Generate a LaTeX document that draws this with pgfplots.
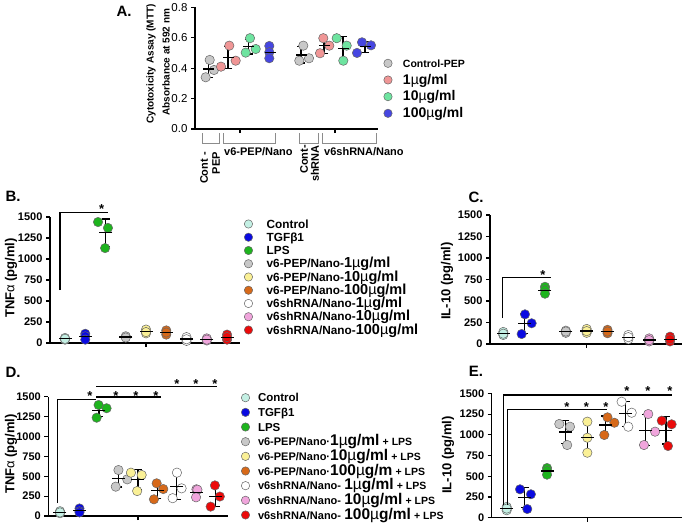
\documentclass[border=0pt]{standalone}
\usepackage{pgfplots}
\pgfplotsset{compat=1.18}
\usepackage{fontspec}
\setmainfont{Liberation Sans}
\definecolor{aGray}{RGB}{200,200,200}
\definecolor{aPink}{RGB}{240,150,150}
\definecolor{aGreen}{RGB}{110,228,160}
\definecolor{aBlue}{RGB}{70,70,225}
\definecolor{cCtrl}{RGB}{196,240,228}
\definecolor{cTGF}{RGB}{10,10,225}
\definecolor{cLPS}{RGB}{30,180,30}
\definecolor{cP1}{RGB}{200,200,200}
\definecolor{cP10}{RGB}{250,240,150}
\definecolor{cP100}{RGB}{215,105,25}
\definecolor{cS1}{RGB}{255,255,255}
\definecolor{cS10}{RGB}{240,165,220}
\definecolor{cS100}{RGB}{235,10,10}
\newcommand{\ugA}[1]{{\fontsize{14}{14}\selectfont #1{\mdseries µ}g/ml}}
\newcommand{\ugB}[1]{{\fontsize{14.5}{14.5}\selectfont #1{\mdseries µ}g/ml}}
\newcommand{\ugD}[1]{{\fontsize{15.5}{15.5}\selectfont #1{\mdseries µ}g/ml}}
\newcommand{\ugDm}[1]{{\fontsize{15.5}{15.5}\selectfont #1{\mdseries µ}g/m}}
\newcommand{\lps}{{\fontsize{10.5}{10.5}\selectfont + LPS}}
\pgfplotsset{
  panel/.style={scale only axis, axis lines=left, axis line style={-, line width=1.2pt},
    tick align=outside, major tick length=4pt, tick style={line width=1.1pt, black},
    clip=false, ymin=0,
    /pgf/number format/assume math mode=true, /pgf/number format/1000 sep={},
    tick label style={font=\bfseries\fontsize{11}{11}\selectfont},
    xtick={5}, xticklabels={}, ymax=1500, ytick={0,250,...,1500}},
  pt/.style={only marks, mark=*, mark size=4.7pt, mark options={fill=#1, draw=black!60, line width=0.5pt}},
  msd/.style={forget plot, only marks, black, mark=-, mark size=#1, mark options={line width=1.2pt},
    error bars/.cd, y dir=both, y explicit, error bar style={line width=1.1pt, black},
    error mark options={rotate=90, mark size=4pt, line width=1.1pt, black}},
  msd/.default=6.5pt,
  leg/.style n args={5}{legend cell align=left,
    legend style={at={(#1,#2)}, anchor=north west, draw=none, fill=none, inner sep=0pt, outer sep=0pt,
      row sep=#3, font=\bfseries\fontsize{#5}{12}\selectfont,
      nodes={inner sep=0pt, text height=10.2pt, text depth=2pt}},
    legend image code/.code={\path[draw=none, fill=none] (0pt,0pt) -- (#4,0pt); \draw[##1, mark size=4.2pt] plot coordinates {(4.5pt,0pt)};}},
}
\begin{document}
\begin{tikzpicture}
\useasboundingbox (0,0) rectangle (683pt,-523pt);
% ---------------- A
\begin{axis}[panel, at={(195pt,-129pt)}, anchor=south west, width=183pt, height=121.7pt,
  xmin=195, xmax=378, ymin=0, ymax=0.8, ytick={0,0.2,...,0.8}, xtick={240,335},
  yticklabel style={font=\fontsize{11.5}{12}\selectfont, /pgf/number format/.cd, fixed, fixed zerofill, precision=1},
  leg={1.030}{0.590}{4.47pt}{19.5pt}{11.5}]
\addplot[pt=aGray] coordinates {(205.7,0.34) (209.7,0.454) (214,0.388)};
\addlegendentry{{\fontsize{10.5}{12}\selectfont Control-PEP}}
\addplot[pt=aPink] coordinates {(221,0.41) (229.3,0.548) (235.7,0.449)};
\addlegendentry{\ugA{1}}
\addplot[pt=aGreen] coordinates {(245.7,0.502) (250,0.597) (255.7,0.526)};
\addlegendentry{\ugA{10}}
\addplot[pt=aBlue] coordinates {(269.3,0.546) (269.3,0.505) (269.3,0.465)};
\addlegendentry{\ugA{100}}
\addplot[pt=aGray, forget plot] coordinates {(299.3,0.449) (303.3,0.548) (309,0.465)};
\addplot[pt=aPink, forget plot] coordinates {(320,0.498) (323.3,0.597) (329.3,0.548)};
\addplot[pt=aGreen, forget plot] coordinates {(336.7,0.597) (346.7,0.548) (343.3,0.449)};
\addplot[pt=aBlue, forget plot] coordinates {(357,0.50) (362,0.57) (371,0.55)};
\addplot[msd=5.5pt] coordinates {(208.5,0.394) +- (0,0.057) (228,0.469) +- (0,0.071)
  (248.5,0.542) +- (0,0.049) (270,0.505) +- (0,0.040) (301,0.487) +- (0,0.053)
  (324,0.548) +- (0,0.049) (343,0.531) +- (0,0.075) (365,0.54) +- (0,0.036)};
\end{axis}
% ---------------- B
\begin{axis}[panel, at={(50pt,-343pt)}, anchor=south west, width=190pt, height=126pt,
  xmin=0.259, xmax=9.64, leg={1.021}{0.993}{1.05pt}{22.7pt}{11.8}]
\addplot[pt=cCtrl] coordinates {(1,40) (1,60) (1,50)};
\addlegendentry{Control}
\addplot[pt=cTGF] coordinates {(2,110) (2,80) (2,40)};
\addlegendentry{TGFβ1}
\addplot[pt=cLPS] coordinates {(2.63,1440) (3.12,1370) (2.98,1130)};
\addlegendentry{LPS}
\addplot[pt=cP1] coordinates {(4,70) (4,80) (4,65)};
\addlegendentry{v6-PEP/Nano-\ugB{1}}
\addplot[pt=cP10] coordinates {(5,160) (5,115) (5,130)};
\addlegendentry{v6-PEP/Nano-\ugB{10}}
\addplot[pt=cP100] coordinates {(6,150) (6,100) (6,125)};
\addlegendentry{v6-PEP/Nano-\ugB{100}}
\addplot[pt=cS1] coordinates {(7,70) (7,25) (7,45)};
\addlegendentry{v6shRNA/Nano-\ugB{1}}
\addplot[pt=cS10] coordinates {(8,55) (8,30) (8,40)};
\addlegendentry{v6shRNA/Nano-\ugB{10}}
\addplot[pt=cS100] coordinates {(9,100) (9,40) (9,70)};
\addlegendentry{v6shRNA/Nano-\ugB{100}}
\addplot[msd] coordinates {(1,50) +- (0,10) (2,76.7) +- (0,35.1) (3.02,1313.3) +- (0,162.6)
  (4,71.7) +- (0,7.6) (5,135) +- (0,22.9) (6,125) +- (0,25) (7,46.7) +- (0,22.5)
  (8,41.7) +- (0,12.6) (9,70) +- (0,30)};
\end{axis}
% ---------------- C
\begin{axis}[panel, at={(490pt,-344pt)}, anchor=south west, width=191.7pt, height=129pt,
  xmin=0.362, xmax=9.56]
\addplot[pt=cCtrl] coordinates {(1,140) (1,105) (1,120)};
\addplot[pt=cTGF] coordinates {(2.04,345) (2.36,241) (1.88,116)};
\addplot[pt=cLPS] coordinates {(3,665) (3,630) (3,585)};
\addplot[pt=cP1] coordinates {(4,155) (4,130) (4,145)};
\addplot[pt=cP10] coordinates {(5,175) (5,130) (5,150)};
\addplot[pt=cP100] coordinates {(6,165) (6,125) (6,145)};
\addplot[pt=cS1] coordinates {(7,105) (7,55) (7,80)};
\addplot[pt=cS10] coordinates {(8,65) (8,30) (8,45)};
\addplot[pt=cS100] coordinates {(9,85) (9,30) (9,55)};
\addplot[msd] coordinates {(1,121.7) +- (0,17.6) (2,234) +- (0,115.1) (3,626.7) +- (0,40.1)
  (4,143.3) +- (0,12.6) (5,151.7) +- (0,22.5) (6,145) +- (0,20) (7,80) +- (0,25)
  (8,46.7) +- (0,17.6) (9,56.7) +- (0,27.5)};
\end{axis}
% ---------------- D
\begin{axis}[panel, at={(48.3pt,-516pt)}, anchor=south west, width=179.7pt, height=119.3pt,
  xmin=0.4, xmax=9.62, leg={1.0724}{1.0428}{2.46pt}{17pt}{11.5}]
\addplot[pt=cCtrl] coordinates {(1,60) (1,35) (1,45)};
\addlegendentry{Control}
\addplot[pt=cTGF] coordinates {(2,95) (2,60) (2,45)};
\addlegendentry{TGFβ1}
\addplot[pt=cLPS] coordinates {(2.98,1396) (3.39,1355) (2.88,1236)};
\addlegendentry{LPS}
\addplot[pt=cP1] coordinates {(4,578) (4.45,461) (3.86,369)};
\addlegendentry{{\fontsize{11}{12}\selectfont v6-PEP/Nano·}\ugD{1} \lps}
\addplot[pt=cP10] coordinates {(4.64,545) (5.19,516) (4.96,314)};
\addlegendentry{{\fontsize{11}{12}\selectfont v6-PEP/Nano·}\ugD{10} \lps}
\addplot[pt=cP100] coordinates {(5.96,411) (6.3,339) (5.82,210)};
\addlegendentry{{\fontsize{11}{12}\selectfont v6-PEP/Nano·}\ugDm{100} \lps}
\addplot[pt=cS1] coordinates {(7,545) (7.24,348) (6.78,224)};
\addlegendentry{{\fontsize{11}{12}\selectfont v6shRNA/Nano-} \ugD{1} \lps}
\addplot[pt=cS10] coordinates {(8,336) (8.05,330) (7.98,235)};
\addlegendentry{{\fontsize{11}{12}\selectfont v6shRNA/Nano-} \ugD{10} \lps}
\addplot[pt=cS100] coordinates {(8.95,385) (9.2,245) (8.73,118)};
\addlegendentry{{\fontsize{11}{12}\selectfont v6shRNA/Nano-} \ugD{100} \lps}
\addplot[msd] coordinates {(1,46.7) +- (0,12.6) (2,66.7) +- (0,25.7) (3,1329) +- (0,83.1)
  (4,469.3) +- (0,104.7) (5,458.3) +- (0,125.8) (6,320) +- (0,101.8) (7,372.3) +- (0,161.9)
  (8,300.3) +- (0,56.7) (9,249.3) +- (0,133.5)};
\end{axis}
% ---------------- E
\begin{axis}[panel, at={(491.7pt,-517.7pt)}, anchor=south west, width=190pt, height=124.2pt,
  xmin=0.256, xmax=9.68]
\addplot[pt=cCtrl] coordinates {(1,130) (1,90) (1,110)};
\addplot[pt=cTGF] coordinates {(1.66,343) (2.2,283) (2.02,105)};
\addplot[pt=cLPS] coordinates {(3,600) (3,570) (3,520)};
\addplot[pt=cP1] coordinates {(3.61,1132) (4.14,1099) (4,878)};
\addplot[pt=cP10] coordinates {(5,1160) (5,966) (5,785)};
\addplot[pt=cP100] coordinates {(6,1212) (6.34,1147) (5.84,999)};
\addplot[pt=cS1] coordinates {(6.7,1401) (7.2,1268) (7.03,1099)};
\addplot[pt=cS10] coordinates {(8.02,1252) (8.36,1039) (7.81,878)};
\addplot[pt=cS100] coordinates {(8.69,1172) (9.18,1128) (9,866)};
\addplot[msd] coordinates {(1,110) +- (0,20) (1.9,243.7) +- (0,123.8) (3,563.3) +- (0,40.4)
  (3.9,1036.3) +- (0,138.1) (5,970.3) +- (0,187.5) (5.9,1119.3) +- (0,109.2) (6.9,1256) +- (0,151.4)
  (7.9,1056.3) +- (0,187.6) (8.9,1055.3) +- (0,165.4)};
\end{axis}
% ---------------- annotations
\begin{scope}[x=1pt, y=-1pt]
\tikzset{ttl/.style={font=\bfseries\fontsize{15}{15}\selectfont},
  ylab/.style={rotate=90, font=\bfseries\fontsize{13}{13}\selectfont},
  brk/.style={line width=1.1pt, black},
  star/.style={anchor=base, inner sep=0pt, font=\bfseries\fontsize{13}{13}\selectfont}}
\node[ttl] at (124,11) {A.};
\node[ttl] at (13,196) {B.};
\node[ttl] at (476,197) {C.};
\node[ttl] at (13,372) {D.};
\node[ttl] at (476,371) {E.};
% A labels
\node[rotate=90, font=\bfseries\fontsize{10}{10}\selectfont] at (151,64) {Cytotoxicity Assay (MTT)};
\node[rotate=90, font=\bfseries\fontsize{10}{10}\selectfont] at (166,62) {Absorbance at 592 nm};
\draw[black!45, line width=0.8pt] (202,133) -- (202,143) -- (219,143) -- (219,133);
\draw[black!45, line width=0.8pt] (223,133) -- (223,143) -- (275,143) -- (275,133);
\draw[black!45, line width=0.8pt] (299,133) -- (299,143) -- (318,143) -- (318,133);
\draw[black!45, line width=0.8pt] (322,133) -- (322,143) -- (376,143) -- (376,133);
\node[anchor=west, inner sep=0pt, font=\bfseries\fontsize{11}{11}\selectfont] at (224,152) {v6-PEP/Nano};
\node[anchor=west, inner sep=0pt, font=\bfseries\fontsize{11}{11}\selectfont] at (324,152) {v6shRNA/Nano};
\node[rotate=90, anchor=east, inner sep=0pt, font=\bfseries\fontsize{11}{11}\selectfont] at (204,152) {Cont -};
\node[rotate=90, anchor=east, inner sep=0pt, font=\bfseries\fontsize{11}{11}\selectfont] at (216,152) {PEP};
\node[rotate=90, anchor=east, inner sep=0pt, font=\bfseries\fontsize{11}{11}\selectfont] at (304,145) {Cont-};
\node[rotate=90, anchor=east, inner sep=0pt, font=\bfseries\fontsize{11}{11}\selectfont] at (315,145) {shRNA};
% y labels
\node[ylab] at (11,278) {TNF{\mdseries α} (pg/ml)};
\node[ylab] at (447,281) {IL-10 (pg/ml)};
\node[ylab] at (11,454) {TNF{\mdseries α} (pg/ml)};
\node[ylab] at (448,455) {IL-10 (pg/ml)};
% B stats
\draw[brk] (60,290) -- (60,212.7) -- (108,212.7);
\node[star] at (101.7,213) {*};
% C stats
\draw[brk] (502.3,318) -- (502.3,277.7) -- (551,277.7);
\node[star] at (543,279) {*};
% D stats
\draw[brk] (57.7,503) -- (57.7,399.5) -- (96,399.5);
\node[star] at (90,400.3) {*};
\draw[brk] (96,397) -- (161,397);
\foreach \x in {116,136,156} {\node[star] at (\x,400.3) {*};}
\draw[brk] (96,386.5) -- (217,386.5);
\foreach \x in {177,196,215} {\node[star] at (\x,388.5) {*};}
% E stats
\draw[brk] (503.3,505) -- (503.3,395) -- (672,395);
\foreach \x in {627,648,670} {\node[star] at (\x,395.5) {*};}
\draw[brk] (507.3,505) -- (507.3,409.3) -- (607,409.3);
\foreach \x in {567,586.5,606} {\node[star] at (\x,411) {*};}
\end{scope}
\end{tikzpicture}
\end{document}
